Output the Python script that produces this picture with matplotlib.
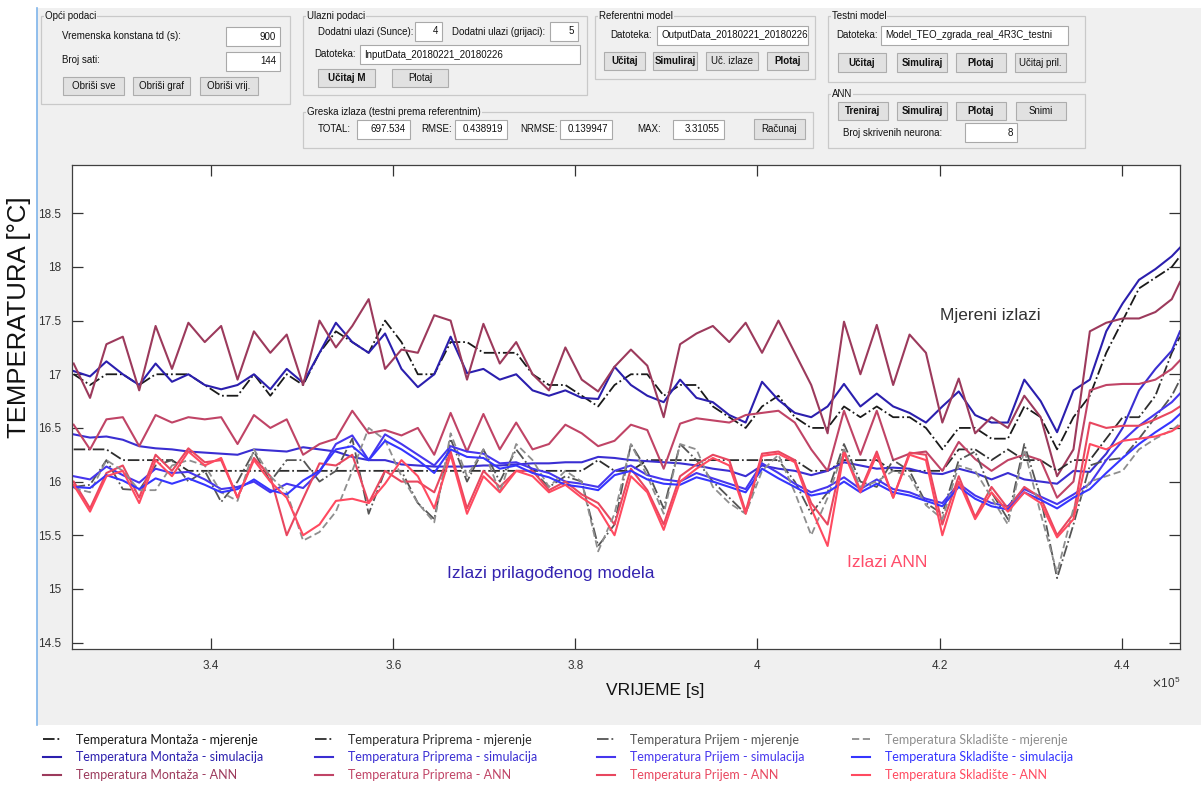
import numpy as np
import matplotlib
matplotlib.use("Agg")
import matplotlib.pyplot as plt
from matplotlib.patches import Rectangle
from matplotlib.lines import Line2D

# time axis: samples every 1800 s (last step 900 s)
t = np.append(np.arange(324900, 445501, 1800), 446400)

montaza_mjer = [17.0, 16.9, 17.0, 17.0, 16.9, 17.0, 17.0, 17.0, 16.9, 16.8,
                16.8, 17.0, 16.8, 17.0, 16.9, 17.2, 17.4, 17.3, 17.2, 17.5,
                17.3, 17.0, 17.0, 17.3, 17.3, 17.2, 17.2, 17.2, 17.0, 16.9,
                16.9, 16.8, 16.7, 16.9, 17.0, 17.0, 16.8, 16.9, 16.9, 16.7,
                16.6, 16.5, 16.7, 16.8, 16.6, 16.5, 16.5, 16.7, 16.6, 16.7,
                16.6, 16.6, 16.5, 16.3, 16.5, 16.5, 16.4, 16.4, 16.7, 16.6,
                16.3, 16.6, 16.8, 17.2, 17.5, 17.8, 17.9, 18.0, 18.1]
montaza_sim = [17.03, 16.98, 17.12, 17.0, 16.9, 17.1, 16.93, 17.0, 16.9, 16.86,
               16.9, 17.0, 16.86, 17.05, 16.92, 17.2, 17.48, 17.3, 17.2, 17.38,
               17.05, 16.88, 17.0, 17.35, 17.01, 17.05, 16.95, 17.0, 16.85, 16.8,
               16.85, 16.78, 16.77, 17.07, 16.9, 16.8, 16.74, 16.95, 16.78, 16.74,
               16.62, 16.55, 16.93, 16.76, 16.64, 16.6, 16.7, 16.91, 16.7, 16.82,
               16.7, 16.64, 16.55, 16.7, 16.84, 16.62, 16.55, 16.55, 16.95, 16.75,
               16.46, 16.85, 16.95, 17.4, 17.66, 17.88, 17.98, 18.1, 18.18]
montaza_ann = [17.1, 16.78, 17.28, 17.35, 16.85, 17.45, 17.05, 17.48, 17.3, 17.45,
               16.95, 17.4, 17.2, 17.37, 16.9, 17.5, 17.25, 17.45, 17.7, 17.05,
               17.23, 17.2, 17.55, 17.5, 16.95, 17.47, 17.1, 17.3, 17.0, 16.85,
               17.25, 16.95, 16.84, 17.07, 17.23, 17.08, 16.6, 17.28, 17.38, 17.45,
               17.3, 17.48, 17.2, 17.5, 17.2, 16.9, 16.45, 17.49, 17.0, 17.46,
               16.9, 17.37, 17.2, 16.55, 16.96, 16.45, 16.6, 16.5, 16.8, 16.6,
               16.05, 16.3, 17.4, 17.48, 17.52, 17.52, 17.58, 17.7, 17.86]

priprema_mjer = [16.3, 16.3, 16.3, 16.2, 16.2, 16.2, 16.2, 16.1, 16.1, 16.1,
                 16.1, 16.1, 16.1, 16.1, 16.1, 16.1, 16.1, 16.1, 16.1, 16.1,
                 16.1, 16.1, 16.1, 16.1, 16.1, 16.1, 16.1, 16.1, 16.1, 16.1,
                 16.1, 16.1, 16.2, 16.1, 16.1, 16.2, 16.2, 16.2, 16.2, 16.2,
                 16.2, 16.2, 16.2, 16.2, 16.2, 16.1, 16.1, 16.2, 16.2, 16.2,
                 16.1, 16.1, 16.1, 16.1, 16.3, 16.3, 16.2, 16.3, 16.2, 16.2,
                 16.1, 16.2, 16.2, 16.4, 16.6, 16.6, 16.8, 17.2, 17.35]
priprema_sim = [16.44, 16.41, 16.42, 16.39, 16.33, 16.31, 16.3, 16.28, 16.27, 16.26,
                16.25, 16.3, 16.29, 16.28, 16.32, 16.3, 16.28, 16.23, 16.2, 16.2,
                16.16, 16.15, 16.14, 16.14, 16.14, 16.15, 16.15, 16.16, 16.17, 16.17,
                16.18, 16.18, 16.23, 16.22, 16.2, 16.19, 16.18, 16.17, 16.15, 16.12,
                16.1, 16.05, 16.15, 16.12, 16.1, 16.06, 16.1, 16.18, 16.15, 16.12,
                16.13, 16.12, 16.08, 16.07, 16.12, 16.08, 16.02, 16.08, 16.02, 16.0,
                15.98, 16.1, 16.09, 16.26, 16.5, 16.85, 17.05, 17.22, 17.4]
priprema_ann = [16.53, 16.3, 16.58, 16.6, 16.33, 16.62, 16.55, 16.6, 16.58, 16.6,
                16.35, 16.62, 16.5, 16.58, 16.25, 16.35, 16.4, 16.66, 16.45, 16.48,
                16.43, 16.5, 16.25, 16.64, 16.28, 16.63, 16.3, 16.55, 16.3, 16.35,
                16.53, 16.45, 16.33, 16.38, 16.53, 16.48, 16.12, 16.54, 16.59, 16.57,
                16.55, 16.62, 16.64, 16.66, 16.55, 16.3, 16.1, 16.66, 16.25, 16.66,
                16.2, 16.26, 16.28, 16.1, 16.37, 16.21, 16.1, 16.2, 16.25, 16.2,
                15.85, 16.0, 16.85, 16.9, 16.91, 16.91, 16.95, 17.05, 17.13]

prijem_mjer = [15.95, 15.97, 16.2, 15.93, 15.92, 16.15, 16.2, 16.0, 16.1, 15.81,
               16.0, 16.28, 16.0, 16.2, 16.2, 16.0, 16.1, 16.4, 15.7, 16.1,
               16.1, 15.8, 15.65, 16.4, 16.0, 16.3, 16.0, 16.3, 16.1, 15.95,
               16.05, 16.0, 15.4, 15.6, 16.35, 16.1, 15.75, 16.35, 16.2, 16.0,
               15.85, 15.7, 16.2, 16.2, 16.0, 15.7, 15.9, 16.35, 16.0, 15.95,
               16.2, 16.1, 15.8, 15.7, 16.2, 16.28, 15.9, 15.65, 16.35, 15.85,
               15.1, 15.6, 16.15, 16.2, 16.22, 16.4, 16.6, 16.8, 16.95]
prijem_sim = [16.05, 16.02, 16.14, 16.06, 15.99, 16.12, 16.08, 16.09, 16.02, 15.93,
              15.95, 16.0, 15.9, 15.98, 15.94, 16.09, 16.35, 16.43, 16.2, 16.44,
              16.35, 16.25, 16.15, 16.33, 16.28, 16.26, 16.17, 16.18, 16.12, 16.08,
              16.0, 15.98, 15.95, 16.1, 16.15, 16.06, 16.02, 16.0, 16.08, 16.03,
              15.98, 15.93, 16.17, 16.08, 15.98, 15.9, 15.95, 16.04, 15.93, 16.02,
              15.93, 15.9, 15.84, 15.8, 15.98, 15.87, 15.8, 15.77, 15.93, 15.86,
              15.79, 15.88, 15.98, 16.2, 16.38, 16.52, 16.63, 16.74, 16.82]
prijem_ann = [16.0, 15.75, 16.08, 16.15, 15.85, 16.25, 16.1, 16.31, 16.18, 16.2,
              15.85, 16.22, 16.05, 15.5, 15.84, 16.17, 16.15, 16.25, 15.8, 16.1,
              16.0, 16.0, 15.9, 16.28, 15.75, 16.1, 15.95, 16.1, 16.1, 15.92,
              16.0, 15.88, 15.8, 15.6, 16.12, 15.92, 15.6, 16.05, 16.16, 16.25,
              16.2, 15.72, 16.26, 16.28, 16.2, 15.8, 15.6, 16.29, 15.92, 16.28,
              15.85, 16.27, 16.25, 15.6, 16.05, 15.67, 15.95, 15.75, 15.95, 15.85,
              15.5, 15.7, 16.55, 16.5, 16.52, 16.52, 16.58, 16.65, 16.7]

skladiste_mjer = [15.94, 15.9, 16.2, 16.1, 15.92, 15.92, 16.15, 16.2, 16.15, 15.9,
                  15.82, 16.3, 16.05, 15.9, 15.45, 15.53, 15.72, 16.1, 16.5, 16.39,
                  16.05, 15.8, 15.62, 16.45, 16.05, 16.3, 15.9, 16.35, 16.2, 15.95,
                  16.1, 16.0, 15.35, 15.7, 16.35, 16.05, 15.7, 16.35, 16.3, 15.95,
                  15.8, 15.7, 16.1, 16.25, 15.9, 15.5, 15.85, 16.3, 15.95, 16.0,
                  16.1, 16.05, 15.78, 15.65, 16.15, 16.1, 15.85, 15.6, 16.3, 15.7,
                  15.15, 15.75, 16.0, 16.05, 16.1, 16.3, 16.4, 16.48, 16.54]
skladiste_sim = [15.95, 15.94, 16.06, 16.01, 15.93, 16.03, 15.98, 16.03, 15.97, 15.9,
                 15.93, 16.02, 15.92, 15.88, 16.01, 16.1, 16.3, 16.33, 16.2, 16.38,
                 16.3, 16.2, 16.08, 16.3, 16.23, 16.22, 16.12, 16.15, 16.08, 16.04,
                 15.97, 15.95, 15.92, 16.06, 16.1, 16.02, 15.98, 15.97, 16.04, 16.0,
                 15.95, 15.9, 16.12, 16.03, 15.95, 15.87, 15.9, 16.0, 15.9, 15.98,
                 15.9, 15.87, 15.82, 15.77, 15.95, 15.84, 15.77, 15.74, 15.9, 15.83,
                 15.75, 15.85, 15.93, 16.08, 16.22, 16.35, 16.46, 16.56, 16.63]
skladiste_ann = [15.97, 15.72, 16.05, 16.1, 15.8, 16.2, 16.05, 16.28, 16.15, 16.22,
                 15.85, 16.2, 16.0, 15.85, 15.5, 15.6, 15.82, 15.84, 15.8, 15.98,
                 16.2, 16.05, 15.75, 16.25, 15.7, 16.05, 15.9, 16.1, 16.05, 15.9,
                 15.97, 15.85, 15.75, 15.5, 16.05, 15.9, 15.55, 16.0, 16.12, 16.22,
                 16.15, 15.7, 16.24, 16.26, 16.18, 15.75, 15.4, 16.27, 15.9, 16.25,
                 15.85, 16.25, 16.2, 15.5, 16.0, 15.65, 15.9, 15.72, 15.9, 15.8,
                 15.48, 15.65, 16.35, 16.3, 16.38, 16.4, 16.42, 16.47, 16.52]

rooms = ["Montaža", "Priprema", "Prijem", "Skladište"]
series = [
    (montaza_mjer, montaza_sim, montaza_ann),
    (priprema_mjer, priprema_sim, priprema_ann),
    (prijem_mjer, prijem_sim, prijem_ann),
    (skladiste_mjer, skladiste_sim, skladiste_ann),
]
# colours per room: measured, simulated, ANN
col_mjer = ["#1a1a1a", "#2e2e2e", "#555555", "#8e8e8e"]
col_sim = ["#2b1fae", "#3a2ed2", "#4636ee", "#3535ff"]
col_ann = ["#9c3a5c", "#c04466", "#e8475f", "#ff4a60"]
ls_mjer = ["-.", "-.", "-.", (0, (4, 2))]

yticks = [14.5, 15, 15.5, 16, 16.5, 17, 17.5, 18, 18.5]
ytick_labels = ["14.5", "15", "15.5", "16", "16.5", "17", "17.5", "18", "18.5"]
xticks = [340000, 360000, 380000, 400000, 420000, 440000]
xtick_labels = ["3.4", "3.6", "3.8", "4", "4.2", "4.4"]

W, H = 1201, 785
GUI_FONT = "Liberation Sans"
GRAY = "#f0f0f0"


def fx(x):
    return x / W


def fy(y):
    return 1 - y / H


fig = plt.figure(figsize=(W / 100, H / 100), dpi=100, facecolor="white")


def rect(x0, y0, x1, y1, fc, ec, lw=0.8, z=1):
    fig.patches.append(Rectangle((fx(x0), fy(y1)), fx(x1) - fx(x0), fy(y0) - fy(y1),
                                 transform=fig.transFigure, facecolor=fc,
                                 edgecolor=ec, linewidth=lw, zorder=z))


def panel(x0, y0, x1, y1, title):
    rect(x0, y0, x1, y1, "none", "#c9c9c9", 0.9, 2)
    fig.text(fx(x0 + 4), fy(y0), title, fontsize=7, family=GUI_FONT, va="center",
             ha="left", color="#111111", zorder=4,
             bbox=dict(facecolor=GRAY, edgecolor="none", pad=0.6))


def label(x, y, s):
    fig.text(fx(x), fy(y), s, fontsize=7, family=GUI_FONT, va="center", ha="left",
             color="#111111", zorder=4)


def editbox(x0, y0, x1, y1, s, align="right"):
    rect(x0, y0, x1, y1, "white", "#a9a9a9", 0.8, 3)
    xt = x1 - 4 if align == "right" else x0 + 4
    fig.text(fx(xt), fy((y0 + y1) / 2), s, fontsize=7, family=GUI_FONT, va="center",
             ha=align, color="#111111", zorder=4)


def button(x0, y0, x1, y1, s, bold=False):
    rect(x0, y0, x1, y1, "#e1e1e1", "#adadad", 0.8, 3)
    fig.text(fx((x0 + x1) / 2), fy((y0 + y1) / 2), s, fontsize=7, family=GUI_FONT,
             va="center", ha="center", color="#111111", zorder=4,
             fontweight="bold" if bold else "normal")


# window background
rect(37, 8, 1201, 725, GRAY, "none", 0, 0)
fig.lines.append(Line2D([fx(37), fx(37)], [fy(8), fy(725)], transform=fig.transFigure,
                        color="#7fb4ea", lw=1.2))

# Opći podaci
panel(41, 16, 290, 104, "Opći podaci")
label(62, 36, "Vremenska konstana td (s):")
editbox(226, 27, 280, 46, "900")
label(62, 60, "Broj sati:")
editbox(226, 52, 280, 71, "144")
button(63, 77, 124, 95, "Obriši sve")
button(133, 77, 190, 95, "Obriši graf")
button(200, 77, 258, 95, "Obriši vrij.")

# Ulazni podaci
panel(303, 16, 587, 95, "Ulazni podaci")
label(318, 32, "Dodatni ulazi (Sunce):")
editbox(415, 22, 442, 41, "4")
label(452, 32, "Dodatni ulazi (grijaci):")
editbox(550, 22, 578, 41, "5")
label(314, 54, "Datoteka:")
editbox(360, 45, 580, 64, "InputData_20180221_20180226", align="left")
button(318, 69, 375, 87, "Učitaj M", bold=True)
button(392, 69, 448, 87, "Plotaj")

# Greska izlaza
panel(303, 112, 813, 148, "Greska izlaza (testni prema referentnim)")
label(318, 129, "TOTAL:")
editbox(357, 120, 410, 139, "697.534")
label(421, 129, "RMSE:")
editbox(455, 120, 507, 139, "0.438919")
label(520, 129, "NRMSE:")
editbox(560, 120, 612, 139, "0.139947")
label(637, 129, "MAX:")
editbox(673, 120, 724, 139, "3.31055")
button(754, 119, 805, 139, "Računaj")

# Referentni model
panel(595, 16, 815, 79, "Referentni model")
label(610, 35, "Datoteka:")
editbox(657, 26, 808, 45, "OutputData_20180221_20180226", align="left")
button(604, 52, 645, 70, "Učitaj", bold=True)
button(653, 52, 697, 70, "Simuliraj", bold=True)
button(706, 52, 758, 70, "Uč. izlaze")
button(767, 52, 808, 70, "Plotaj", bold=True)

# Testni model
panel(828, 16, 1085, 82, "Testni model")
label(836, 35, "Datoteka:")
editbox(881, 26, 1068, 45, "Model_TEO_zgrada_real_4R3C_testni", align="left")
button(838, 53, 886, 72, "Učitaj", bold=True)
button(897, 53, 947, 72, "Simuliraj", bold=True)
button(956, 53, 1006, 72, "Plotaj", bold=True)
button(1015, 53, 1066, 72, "Učitaj pril.")

# ANN
panel(828, 94, 1085, 148, "ANN")
button(838, 102, 888, 120, "Treniraj", bold=True)
button(897, 102, 947, 120, "Simuliraj", bold=True)
button(956, 102, 1006, 120, "Plotaj", bold=True)
button(1016, 102, 1066, 120, "Snimi")
label(843, 133, "Broj skrivenih neurona:")
editbox(965, 123, 1017, 142, "8")

# main axes
ax = fig.add_axes([fx(72), fy(649), fx(1180) - fx(72), fy(165) - fy(649)])
ax.set_zorder(5)
ax.set_facecolor("white")
handles = []
for i, (mj, sim, ann) in enumerate(series):
    h1, = ax.plot(t, mj, color=col_mjer[i], ls=ls_mjer[i], lw=1.3)
    h2, = ax.plot(t, sim, color=col_sim[i], lw=1.5)
    h3, = ax.plot(t, ann, color=col_ann[i], lw=1.5)
    handles.append((h1, h2, h3))

ax.set_xlim(t[0] - 180, t[-1])
ax.set_ylim(14.44, 18.95)
ax.set_xticks(xticks)
ax.set_xticklabels(xtick_labels)
ax.set_yticks(yticks)
ax.set_yticklabels(ytick_labels)
ax.tick_params(direction="in", length=8, width=0.9, colors="#333333",
               labelsize=8.5, top=True, right=True, pad=8)
for s in ax.spines.values():
    s.set_color("#404040")
    s.set_linewidth(0.9)
for lab in ax.get_xticklabels() + ax.get_yticklabels():
    lab.set_family(GUI_FONT)

fig.text(fx(1166), fy(683), r"$\times\mathregular{10^{5}}$", fontsize=8.5,
         family=GUI_FONT, color="#333333", ha="center", va="center", zorder=6)
fig.text(fx(655), fy(691), "VRIJEME [s]", fontsize=12.5, family=GUI_FONT,
         ha="center", va="center", color="#111111", zorder=6)
fig.text(fx(19), fy(317), "TEMPERATURA [°C]", fontsize=18.5, family=GUI_FONT,
         ha="center", va="center", rotation=90, color="#111111", zorder=6)

ax.text(0.8285, 0.69, "Mjereni izlazi", transform=ax.transAxes, fontsize=12.5,
        family=GUI_FONT, color="#333333", ha="center", va="center")
ax.text(0.432, 0.157, "Izlazi prilagođenog modela", transform=ax.transAxes,
        fontsize=12.5, family=GUI_FONT, color="#3423b0", ha="center", va="center")
ax.text(0.736, 0.178, "Izlazi ANN", transform=ax.transAxes, fontsize=12.5,
        family=GUI_FONT, color="#ff4d6a", ha="center", va="center")

# legend: one block per room, in four columns
leg_x = [34, 306, 588, 843]
for i, room in enumerate(rooms):
    labels = ["Temperatura %s - mjerenje" % room,
              "Temperatura %s - simulacija" % room,
              "Temperatura %s - ANN" % room]
    leg = fig.legend(handles[i], labels, loc="upper left",
                     bbox_to_anchor=(fx(leg_x[i]), fy(725)), frameon=False,
                     prop={"family": "Lato", "size": 9.0}, handlelength=1.45,
                     handletextpad=1.2, labelspacing=0.45, borderpad=0.2)
    for txt, c in zip(leg.get_texts(), [col_mjer[i], col_sim[i], col_ann[i]]):
        txt.set_color(c)

fig.savefig("out.png", dpi=100, facecolor="white")
